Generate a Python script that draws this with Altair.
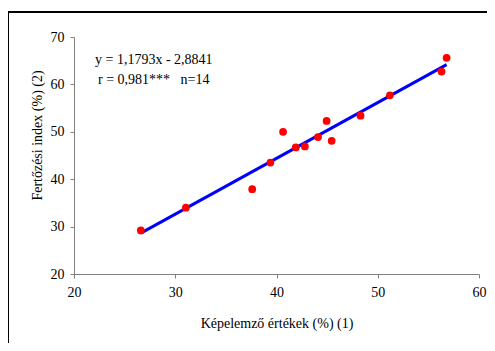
import altair as alt
import pandas as pd

# Data
kepelemzo = [26.6, 31.05, 37.6, 39.4, 40.65, 41.9, 42.8, 44.1, 44.95, 45.45, 48.3, 51.2, 56.3, 56.8]
fertozesi = [29.2, 34.0, 37.9, 43.5, 50.0, 46.7, 46.9, 48.9, 52.3, 48.1, 53.4, 57.7, 62.7, 65.6]

x_ticks = [20, 30, 40, 50, 60]
y_ticks = [20, 30, 40, 50, 60, 70]

x_title = "Képelemző értékek (%) (1)"
y_title = "Fertőzési index (%) (2)"
eq_lines = ["y = 1,1793x - 2,8841", "r = 0,981***\u00a0\u00a0\u00a0n=14"]

df = pd.DataFrame({"x": kepelemzo, "y": fertozesi})

FONT = "Liberation Serif, Times New Roman, serif"
FS = 14

xscale = alt.Scale(domain=[20, 60], nice=False, zero=False)
yscale = alt.Scale(domain=[20, 70], nice=False, zero=False)

xaxis = alt.Axis(
    values=x_ticks, title=x_title, grid=False, domainColor="#808080",
    tickColor="#808080", tickSize=4, labelPadding=7, labelFontSize=FS,
    labelFont=FONT, labelColor="#000", titleFont=FONT, titleFontSize=FS,
    titleFontWeight="normal", titleColor="#000", titleY=49,
    titleBaseline="middle", labelFlush=False,
)
yaxis = alt.Axis(
    values=y_ticks, title=y_title, grid=False, domainColor="#808080",
    tickColor="#808080", tickSize=4, labelPadding=6, labelFontSize=FS,
    labelFont=FONT, labelColor="#000", titleFont=FONT, titleFontSize=FS,
    titleFontWeight="normal", titleColor="#000", titleX=-37, titleY=98,
    titleBaseline="middle", titleAngle=-90, labelFlush=False,
)

base = alt.Chart(df)

points = base.mark_circle(color="#FF0000", opacity=1, size=60).encode(
    x=alt.X("x:Q", scale=xscale, axis=xaxis),
    y=alt.Y("y:Q", scale=yscale, axis=yaxis),
)

fit = base.transform_regression("x", "y").mark_line(
    color="#0000FF", strokeWidth=3
).encode(
    x=alt.X("x:Q", scale=xscale),
    y=alt.Y("y:Q", scale=yscale),
)

eq_df = pd.DataFrame({"t": eq_lines, "row": [0, 1]})
eq1 = alt.Chart(eq_df).transform_filter("datum.row == 0").mark_text(
    align="left", baseline="middle", font=FONT, fontSize=FS, color="#000"
).encode(x=alt.value(21), y=alt.value(23), text="t:N")
eq2 = alt.Chart(eq_df).transform_filter("datum.row == 1").mark_text(
    align="left", baseline="middle", font=FONT, fontSize=FS, color="#000"
).encode(x=alt.value(24), y=alt.value(43), text="t:N")

# frame around the figure (top and left edges; right/bottom lie outside the crop)
frame_left = alt.Chart(eq_df.head(1)).mark_rule(color="#000", strokeWidth=2).encode(
    x=alt.value(-66), y=alt.value(-26), y2=alt.value(400)
)
frame_top = alt.Chart(eq_df.head(1)).mark_rule(color="#000", strokeWidth=2).encode(
    x=alt.value(-67), x2=alt.value(500), y=alt.value(-25)
)

chart = alt.layer(frame_left, frame_top, fit, points, eq1, eq2).properties(
    width=405, height=237,
    autosize=alt.AutoSizeParams(type="none"),
    padding={"left": 66, "top": 29, "right": 8, "bottom": 69},
    background="white",
).configure_view(stroke=None)

chart.save("out.html", embed_options={"renderer": "svg", "actions": False})
